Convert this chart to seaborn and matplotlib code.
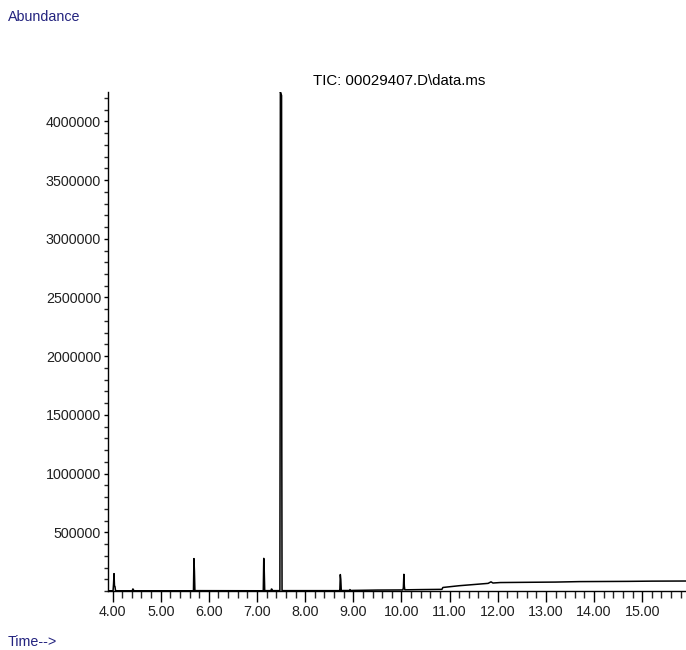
import numpy as np
import pandas as pd
import matplotlib
matplotlib.use("Agg")
import matplotlib.pyplot as plt
from matplotlib.ticker import MultipleLocator, FixedLocator
import seaborn as sns

# chromatogram trace (retention time in min, abundance)
time_min = [3.90, 4.01, 4.02, 4.03, 4.04, 4.05, 4.06, 4.08, 4.41, 4.42, 4.43, 4.44,
            5.67, 5.68, 5.69, 5.70, 5.71,
            7.12, 7.13, 7.14, 7.15, 7.16, 7.29, 7.30, 7.31, 7.32,
            7.475, 7.48, 7.485, 7.51, 7.515, 7.52,
            8.71, 8.72, 8.73, 8.74, 8.75, 8.92, 8.93, 8.95, 9.00,
            9.50, 10.03, 10.04, 10.05, 10.06, 10.07, 10.40, 10.84, 10.86,
            11.20, 11.50, 11.80, 11.86, 11.90, 12.05, 12.60, 13.20, 13.70,
            14.20, 14.70, 15.20, 15.91]
abundance = [2000, 2000, 60000, 148000, 40000, 38000, 5000, 2000, 2000, 17000, 15000, 2000,
             2000, 3000, 276000, 170000, 3000,
             2000, 3000, 278000, 176000, 3000, 3000, 17000, 15000, 3000,
             3000, 1500000, 4250000, 4220000, 1200000, 3000,
             3000, 4000, 140000, 100000, 4000, 4000, 12000, 4000, 5000,
             8000, 9000, 30000, 142000, 40000, 10000, 12000, 14000, 30000,
             45000, 55000, 65000, 78000, 68000, 72000, 74000, 76000, 80000,
             81000, 82000, 84000, 85000]

y_ticks = [500000, 1000000, 1500000, 2000000, 2500000, 3000000, 3500000, 4000000]
x_ticks = [4, 5, 6, 7, 8, 9, 10, 11, 12, 13, 14, 15]

df = pd.DataFrame({"time": time_min, "abundance": abundance})

sns.set_style("ticks")
plt.rcParams["font.family"] = ["Liberation Sans", "DejaVu Sans"]

navy = "#23237f"

fig = plt.figure(figsize=(6.86, 6.5), dpi=100)
ax = fig.add_axes([108 / 686, 1 - 591 / 650, 1 - 108 / 686, (591 - 92) / 650])

sns.lineplot(data=df, x="time", y="abundance", sort=False, estimator=None,
             color="black", linewidth=1.1, ax=ax)

ax.set_xlim(3.905, 15.91)
ax.set_ylim(0, 4250000)

ax.xaxis.set_major_locator(FixedLocator(x_ticks))
ax.xaxis.set_minor_locator(MultipleLocator(0.2))
ax.set_xticklabels([f"{t:.2f}" for t in x_ticks])
ax.yaxis.set_major_locator(FixedLocator(y_ticks))
ax.yaxis.set_minor_locator(MultipleLocator(100000))
ax.set_yticklabels([str(v) for v in y_ticks])

ax.tick_params(axis="x", which="major", length=8, width=1, labelsize=10.3, pad=2, colors="black")
ax.tick_params(axis="x", which="minor", length=5, width=1)
ax.tick_params(axis="y", which="major", length=3, width=1, labelsize=10.3, pad=2, colors="black")
ax.tick_params(axis="y", which="minor", length=3, width=1)
for lab in ax.get_xticklabels() + ax.get_yticklabels():
    lab.set_color("#202020")

sns.despine(ax=ax, top=True, right=True)
for s in ("left", "bottom"):
    ax.spines[s].set_linewidth(1.0)
    ax.spines[s].set_color("black")

ax.set_xlabel("")
ax.set_ylabel("")

fig.text(399 / 686, 1 - 81 / 650, "TIC: 00029407.D\\data.ms", ha="center", va="center",
         fontsize=10.8, color="black")
fig.text(8 / 686, 1 - 17 / 650, "Abundance", ha="left", va="center", fontsize=10.3, color=navy)
fig.text(8 / 686, 1 - 642 / 650, "Time-->", ha="left", va="center", fontsize=10.3, color=navy)

fig.savefig("out.png", dpi=100)
